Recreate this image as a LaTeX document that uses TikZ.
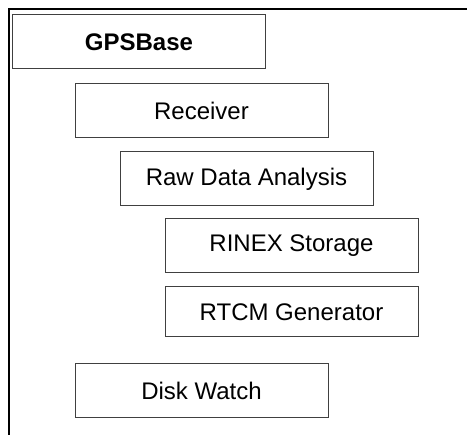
\documentclass[tikz,border=0pt]{standalone}
\usepackage{fontspec}
\setmainfont{Liberation Sans}
\tikzset{
    module/.style={
        draw=black!75,
        line width=1pt,
        minimum width=253pt,
        minimum height=54pt,
        inner sep=0pt,
        font=\fontsize{24}{28}\selectfont
    },
    frame/.style={
        line width=2pt,
        black
    }
}

\begin{document}
\begin{tikzpicture}[x=1pt,y=-1pt]
    \useasboundingbox (0,0) rectangle (467,435);
    % open frame: left and top edges only
    \draw [frame] (8.5,435) -- (8.5,9.3) -- (467,9.3);
    \node [module, font=\fontsize{24}{28}\selectfont\bfseries] (gpsbase) at (139,42) {GPSBase};
    \node [module] (receiver) at (201.5,111) {Receiver};
    \node [module] (rawdata) at (246.5,179) {Raw Data Analysis};
    \node [module] (rinex) at (291.5,246) {RINEX Storage};
    \node [module, minimum height=50pt] (rtcm) at (291.5,312) {RTCM Generator};
    \node [module] (diskwatch) at (201.5,391) {Disk Watch};
\end{tikzpicture}
\end{document}
